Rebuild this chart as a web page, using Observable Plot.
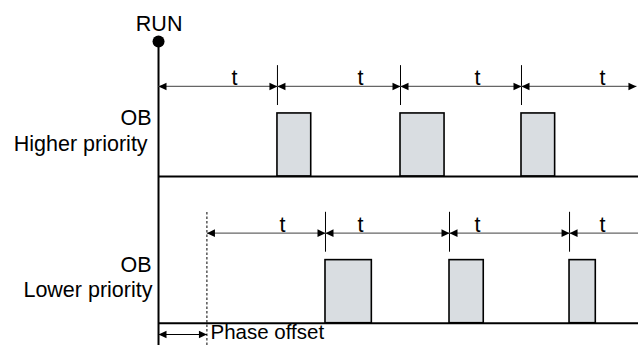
<!DOCTYPE html>
<html>
<head>
<meta charset="utf-8">
<script src="https://cdn.jsdelivr.net/npm/d3@7"></script>
<script src="https://cdn.jsdelivr.net/npm/@observablehq/plot@0.6"></script>
<style>
  html, body { margin: 0; padding: 0; background: #fff; }
  #chart { width: 638px; height: 345px; }
</style>
</head>
<body>
<div id="chart"></div>
<script>
// ---- data (time in units of the period t; 0 = RUN) ----
const laneNames = ["Higher priority", "Lower priority"];
const obLabel = "OB";
const periodLabel = "t";
const phaseLabel = "Phase offset";
const runLabel = "RUN";

const phaseOffset = 0.40;
// boundaries of the period arrows
const upperBounds = [0, 0.983, 2.0, 3.0, 3.95];
const lowerBounds = [0.40, 1.38, 2.405, 3.397, 3.98];
// OB execution blocks (start, end)
const upperPulseStart = [0.983, 2.0, 3.0];
const upperPulseEnd   = [1.262, 2.364, 3.278];
const lowerPulseStart = [1.38, 2.405, 3.397];
const lowerPulseEnd   = [1.763, 2.688, 3.614];
// positions of the "t" labels
const upperTX = [0.628, 1.669, 2.636, 3.669];
const lowerTX = [1.025, 1.669, 2.636, 3.669];

// ---- layout constants (value space of y) ----
const base = [5, 0];          // lane baselines
const pulseH = 2.15;
const arrowY = 3.07, tickLo = 2.42, tickHi = 3.78, tY = 3.36;
const xEnd = 3.967;
const fs = 21.5;
const labelEnd = [-0.09, -0.05];

const headRight = {draw(c){ c.moveTo(0,0); c.lineTo(-8,-3.8); c.lineTo(-8,3.8); c.closePath(); }};
const headLeft  = {draw(c){ c.moveTo(0,0); c.lineTo(8,-3.8); c.lineTo(8,3.8); c.closePath(); }};

function segs(bounds, b, lastHead) {
  const out = [];
  for (let i = 0; i < bounds.length - 1; i++)
    out.push({x1: bounds[i], x2: bounds[i+1], y: b + arrowY, head: lastHead || i < bounds.length - 2});
  return out;
}
const arrows = [...segs(upperBounds, base[0], true), ...segs(lowerBounds, base[1], false)];
const ticks = [
  ...upperBounds.slice(1, -1).map(x => ({x, y1: base[0] + tickLo, y2: base[0] + tickHi})),
  ...lowerBounds.slice(1, -1).map(x => ({x, y1: base[1] + tickLo, y2: base[1] + tickHi}))
];
const pulses = [
  ...upperPulseStart.map((s, i) => ({x1: s, x2: upperPulseEnd[i], y1: base[0], y2: base[0] + pulseH})),
  ...lowerPulseStart.map((s, i) => ({x1: s, x2: lowerPulseEnd[i], y1: base[1], y2: base[1] + pulseH}))
];
const tLabels = [
  ...upperTX.map(x => ({x, y: base[0] + tY})),
  ...lowerTX.map(x => ({x, y: base[1] + tY}))
];
const laneLabels = [];
laneNames.forEach((n, i) => {
  laneLabels.push({x: -0.058, y: base[i] + 1.99, text: obLabel});
  laneLabels.push({x: labelEnd[i], y: base[i] + 1.12, text: n});
});
const phaseY = -0.385;
const phaseArrow = [{x1: 0, x2: phaseOffset, y: phaseY}];

const font = "'Liberation Sans', Arial, Helvetica, sans-serif";
const plot = Plot.plot({
  width: 638, height: 345,
  margin: 0,
  x: {domain: [-1.306, xEnd], axis: null},
  y: {domain: [-0.76, 11.0], axis: null},
  style: {fontFamily: font, background: "white", overflow: "hidden"},
  marks: [
    // pulses
    Plot.rect(pulses, {x1: "x1", x2: "x2", y1: "y1", y2: "y2", fill: "#d9dde1", stroke: "black", strokeWidth: 1.6}),
    // baselines
    Plot.ruleY(base, {x1: 0, x2: xEnd, stroke: "black", strokeWidth: 2}),
    // vertical time axis
    Plot.ruleX([0], {y1: -0.76, y2: 9.6, stroke: "black", strokeWidth: 2}),
    // dashed phase line
    Plot.ruleX([phaseOffset], {y1: -0.76, y2: base[1] + tickHi, stroke: "black", strokeWidth: 1, strokeDasharray: "2.5,2"}),
    // ticks
    Plot.ruleX(ticks, {x: "x", y1: "y1", y2: "y2", stroke: "black", strokeWidth: 1}),
    // period arrows
    Plot.link(arrows, {x1: "x1", x2: "x2", y1: "y", y2: "y", stroke: "#666", strokeWidth: 1.2}),
    Plot.dot(arrows, {x: "x1", y: "y", symbol: headLeft, fill: "black", stroke: "none"}),
    Plot.dot(arrows.filter(d => d.head), {x: "x2", y: "y", symbol: headRight, fill: "black", stroke: "none"}),
    // phase offset arrow
    Plot.link(phaseArrow, {x1: "x1", x2: "x2", y1: "y", y2: "y", stroke: "black", strokeWidth: 1.2}),
    Plot.dot(phaseArrow, {x: "x1", y: "y", symbol: headLeft, fill: "black", stroke: "none"}),
    Plot.dot(phaseArrow, {x: "x2", y: "y", symbol: headRight, fill: "black", stroke: "none"}),
    // RUN dot
    Plot.dot([{x: 0, y: 9.6}], {x: "x", y: "y", r: 6, fill: "black", stroke: "none"}),
    // texts
    Plot.text([{x: 0.005, y: 10.19, text: runLabel}], {x: "x", y: "y", text: "text", fontSize: fs, fill: "black"}),
    Plot.text(tLabels, {x: "x", y: "y", text: () => periodLabel, fontSize: fs, fill: "black"}),
    Plot.text(laneLabels, {x: "x", y: "y", text: "text", textAnchor: "end", fontSize: fs, fill: "black"}),
    Plot.text([{x: 0.43, y: -0.33, text: phaseLabel}], {x: "x", y: "y", text: "text", textAnchor: "start", fontSize: 20.5, fill: "black"})
  ]
});
document.getElementById("chart").appendChild(plot);
</script>
</body>
</html>
